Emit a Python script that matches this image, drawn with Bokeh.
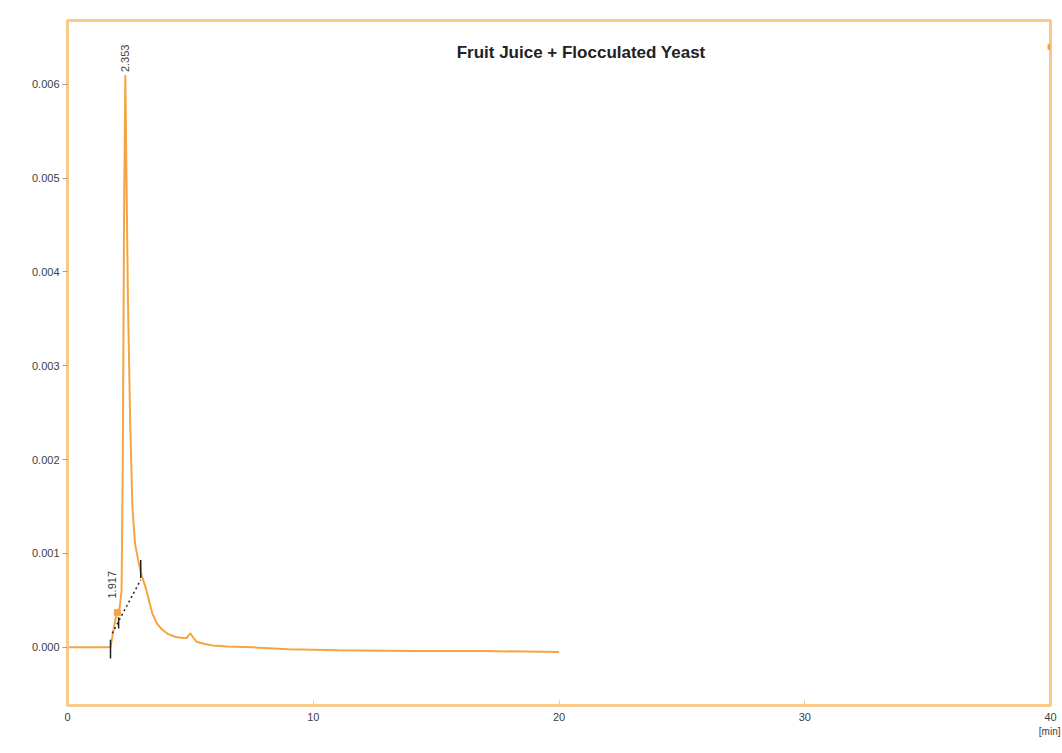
import numpy as np
from bokeh.plotting import figure
from bokeh.models import Range1d, FixedTicker, NumeralTickFormatter, Label, Title
from bokeh.core.properties import value
from bokeh.embed import file_html
from bokeh.resources import INLINE

# Chromatogram data (retention time [min], signal)
time_min = [0.0, 1.0, 1.70, 1.75, 1.85, 1.95, 2.03, 2.12, 2.20, 2.25, 2.30, 2.353,
            2.40, 2.46, 2.55, 2.64, 2.75, 2.90, 3.00, 3.20, 3.45, 3.65, 3.85, 4.10,
            4.40, 4.70, 4.85, 5.00, 5.10, 5.25, 5.50, 5.90, 6.50, 7.50, 9.0, 11.0,
            14.0, 17.0, 20.0]
signal = [0.0, 0.0, 0.0, 0.0, 0.00015, 0.00030, 0.00037, 0.00042, 0.00060, 0.0020,
          0.0045, 0.0061, 0.0050, 0.0037, 0.0024, 0.0015, 0.0011, 0.00090, 0.00078,
          0.00062, 0.00036, 0.00025, 0.00019, 0.00014, 0.00011, 0.00010, 0.00010,
          0.00015, 0.00011, 0.00006, 0.00004, 0.00002, 0.00001, 0.0, -0.00002,
          -0.00003, -0.00004, -0.00004, -0.00005]

peak_times = [2.353]
peak_heights = [0.0061]
shoulder_times = [1.917]
peak_labels = ["2.353"]
shoulder_labels = ["1.917"]

# integration baseline and markers
base_x = [1.82, 2.98]
base_y = [0.00015, 0.00072]
mark_x = [1.75, 2.08, 2.98]
mark_y0 = [-0.00012, 0.00020, 0.00074]
mark_y1 = [0.00008, 0.00032, 0.00093]

x_ticks = [0, 10, 20, 30, 40]
y_ticks = [0.0, 0.001, 0.002, 0.003, 0.004, 0.005, 0.006]

title_text = "Fruit Juice + Flocculated Yeast"
x_unit = "[min]"

ORANGE = "#F6A443"
FRAME = "#F7C98A"
TXT = "#404040"
FONT = "Liberation Sans"

p = figure(width=1062, height=753, output_backend="svg", toolbar_location=None,
           x_range=Range1d(0, 40), y_range=Range1d(-0.00062, 0.00668),
           min_border_left=67, min_border_right=12, min_border_top=20,
           min_border_bottom=48)
p.background_fill_color = "white"
p.border_fill_color = "white"
p.outline_line_color = FRAME
p.outline_line_width = 3
p.xgrid.visible = False
p.ygrid.visible = False

p.xaxis.ticker = FixedTicker(ticks=x_ticks)
p.yaxis.ticker = FixedTicker(ticks=y_ticks)
p.yaxis.formatter = NumeralTickFormatter(format="0.000")
for ax in (p.xaxis, p.yaxis):
    ax.axis_line_color = FRAME
    ax.axis_line_width = 3
    ax.major_tick_line_color = "#A0A0A0"
    ax.minor_tick_line_color = None
    ax.major_label_text_font = FONT
    ax.major_label_text_font_size = "11px"
    ax.major_label_text_color = TXT
p.xaxis.major_tick_in = 5
p.xaxis.major_tick_out = 0
p.xaxis.major_tick_line_color = FRAME
p.yaxis.major_tick_in = 0
p.yaxis.major_tick_out = 5
p.xaxis.major_label_standoff = 7
p.yaxis.major_label_standoff = 3

# trace
p.line(time_min, signal, line_color=ORANGE, line_width=2)

# integration baseline (dotted) and markers
p.line(base_x, base_y, line_color="#222222", line_width=1.5, line_dash="2 3")
p.segment(x0=mark_x, y0=mark_y0, x1=mark_x, y1=mark_y1, line_color="#222222",
          line_width=1.5)
p.scatter([2.03], [0.00037], marker="square", size=6, color=ORANGE)
p.scatter([40], [0.0064], marker="square", size=5, color=ORANGE)

# peak labels
p.text(x=peak_times, y=[h + 0.00003 for h in peak_heights], text=peak_labels,
       angle=np.pi / 2, text_align="left", text_baseline="middle",
       text_font=value(FONT), text_font_size="11px", text_color=TXT)
p.text(x=[t - 0.1 for t in shoulder_times], y=[0.00052], text=shoulder_labels,
       angle=np.pi / 2, text_align="left", text_baseline="middle",
       text_font=value(FONT), text_font_size="11px", text_color=TXT)

p.add_layout(Label(x=20.9, y=0.00634, text=title_text, text_align="center",
                   text_baseline="middle", text_font=FONT,
                   text_font_size="17px", text_font_style="bold",
                   text_color="#222222"))
p.add_layout(Title(text=x_unit, align="right", text_font=FONT,
                   text_font_size="10px", text_font_style="normal",
                   text_color=TXT, standoff=0, offset=-10), "below")

open("out.html", "w").write(file_html(p, INLINE))
